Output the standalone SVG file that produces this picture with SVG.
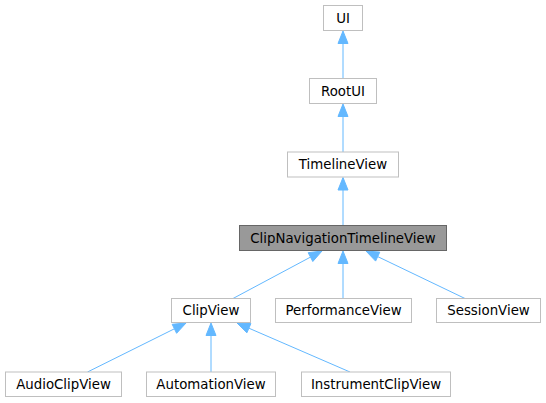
<svg xmlns="http://www.w3.org/2000/svg" width="546" height="403" viewBox="0 0 546 403">
<style>
.node rect{fill:#ffffff;stroke:#bfbfbf;stroke-width:1}
.node.main rect{fill:#999999;stroke:#666666}
.node text{font-family:"DejaVu Sans","Liberation Sans",sans-serif;font-size:13.33px;fill:#000000;text-anchor:middle}
.edge line{stroke:#63b8ff;stroke-width:1;fill:none}
.edge polygon{fill:#63b8ff;stroke:#63b8ff;stroke-width:1}
</style>
<rect x="0" y="0" width="546" height="403" fill="#ffffff"/>
<g id="connectors">
  <g class="edge" id="e_rootui_ui"><line x1="343" y1="78.5" x2="343" y2="43.5"/><polygon points="343,31 338,43.5 348,43.5"/></g>
  <g class="edge" id="e_timeline_rootui"><line x1="343" y1="152" x2="343" y2="116.5"/><polygon points="343,104 338,116.5 348,116.5"/></g>
  <g class="edge" id="e_clipnav_timeline"><line x1="343" y1="225.5" x2="343" y2="190"/><polygon points="343,177.5 338,190 348,190"/></g>
  <g class="edge" id="e_clipview_clipnav"><line x1="233" y1="298.5" x2="310.5" y2="257.1"/><polygon points="322,251 312.8,261.5 308.2,252.7"/></g>
  <g class="edge" id="e_perf_clipnav"><line x1="343" y1="298.5" x2="343" y2="263.5"/><polygon points="343,251 338,263.5 348,263.5"/></g>
  <g class="edge" id="e_session_clipnav"><line x1="465" y1="298.5" x2="377.7" y2="256.6"/><polygon points="366,251 379.8,252.1 375.6,261.1"/></g>
  <g class="edge" id="e_audio_clipview"><line x1="87.5" y1="372" x2="174.4" y2="328.8"/><polygon points="186,323 176.6,333.3 172.2,324.3"/></g>
  <g class="edge" id="e_automation_clipview"><line x1="211" y1="372" x2="211" y2="335.5"/><polygon points="211,323 206,335.5 216,335.5"/></g>
  <g class="edge" id="e_instrument_clipview"><line x1="350" y1="372" x2="248.9" y2="328.2"/><polygon points="237,323 250.9,323.6 246.9,332.8"/></g>
</g>
<g class="node" id="UI"><rect x="323.5" y="5.5" width="39" height="25"/><text x="343" y="22.5">UI</text></g>
<g class="node" id="RootUI"><rect x="309.5" y="78.5" width="67" height="25"/><text x="343" y="95.5">RootUI</text></g>
<g class="node" id="TimelineView"><rect x="287.5" y="152" width="111" height="25"/><text x="343" y="169">TimelineView</text></g>
<g class="node main" id="ClipNavigationTimelineView"><rect x="239.5" y="225.5" width="207" height="25"/><text x="343" y="242.5">ClipNavigationTimelineView</text></g>
<g class="node" id="ClipView"><rect x="171.5" y="298.5" width="79" height="24"/><text x="211" y="315">ClipView</text></g>
<g class="node" id="PerformanceView"><rect x="275.5" y="298.5" width="136" height="24"/><text x="343.5" y="315">PerformanceView</text></g>
<g class="node" id="SessionView"><rect x="436.5" y="298.5" width="104" height="24"/><text x="488.5" y="315">SessionView</text></g>
<g class="node" id="AudioClipView"><rect x="5.5" y="372" width="116" height="24.5"/><text x="63.5" y="388.5">AudioClipView</text></g>
<g class="node" id="AutomationView"><rect x="146.5" y="372" width="129" height="24.5"/><text x="211" y="388.5">AutomationView</text></g>
<g class="node" id="InstrumentClipView"><rect x="301.5" y="372" width="149" height="24.5"/><text x="376" y="388.5">InstrumentClipView</text></g>
</svg>
